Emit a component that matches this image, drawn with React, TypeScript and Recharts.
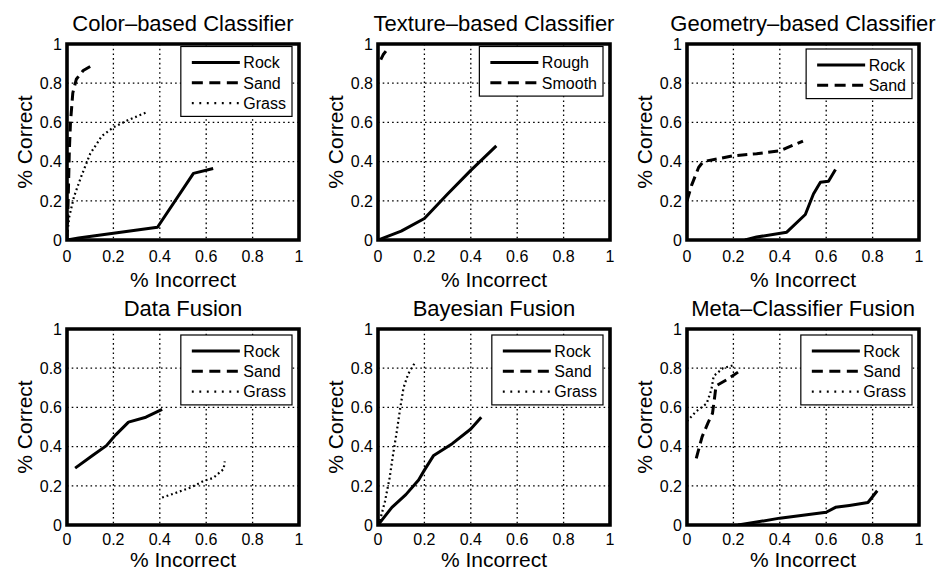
import React from 'react';
import { LineChart, Line, XAxis, YAxis, CartesianGrid, ReferenceArea, Label } from 'recharts';

type Pt = [number, number];

// ---------- data ----------
const TICKS = [0, 0.2, 0.4, 0.6, 0.8, 1];
const TICK_LABELS = ['0', '0.2', '0.4', '0.6', '0.8', '1'];
const X_LABEL = '% Incorrect';
const Y_LABEL = '% Correct';

const colorRock: Pt[] = [[0, 0], [0.05, 0.01], [0.2, 0.035], [0.39, 0.065], [0.545, 0.34], [0.63, 0.365]];
const colorSand: Pt[] = [[0, 0], [0.005, 0.2], [0.01, 0.45], [0.015, 0.6], [0.025, 0.75], [0.04, 0.82], [0.07, 0.865], [0.115, 0.895]];
const colorGrass: Pt[] = [[0, 0.02], [0.01, 0.12], [0.03, 0.22], [0.06, 0.32], [0.1, 0.44], [0.15, 0.53], [0.2, 0.575], [0.26, 0.61], [0.35, 0.655]];

const textureRough: Pt[] = [[0, 0], [0.1, 0.045], [0.2, 0.11], [0.3, 0.235], [0.4, 0.355], [0.51, 0.48]];
const textureSmooth: Pt[] = [[0.012, 0.92], [0.022, 0.945], [0.035, 0.965]];

const geometryRock: Pt[] = [[0.25, 0], [0.3, 0.015], [0.43, 0.04], [0.51, 0.13], [0.545, 0.235], [0.575, 0.295], [0.61, 0.3], [0.64, 0.36]];
const geometrySand: Pt[] = [[0, 0.2], [0.02, 0.28], [0.05, 0.37], [0.07, 0.4], [0.2, 0.43], [0.3, 0.44], [0.4, 0.455], [0.5, 0.505]];

const dataFusionRock: Pt[] = [[0.035, 0.29], [0.11, 0.355], [0.17, 0.405], [0.21, 0.46], [0.265, 0.525], [0.34, 0.55], [0.41, 0.59]];
const dataFusionSand: Pt[] = [];
const dataFusionGrass: Pt[] = [[0.41, 0.14], [0.46, 0.16], [0.53, 0.19], [0.59, 0.225], [0.63, 0.24], [0.675, 0.285], [0.68, 0.325]];

const bayesRock: Pt[] = [[0, 0], [0.02, 0.03], [0.06, 0.09], [0.12, 0.155], [0.175, 0.23], [0.2, 0.28], [0.24, 0.355], [0.32, 0.415], [0.4, 0.49], [0.445, 0.55]];
const bayesSand: Pt[] = [];
const bayesGrass: Pt[] = [[0, 0], [0.01, 0.03], [0.03, 0.12], [0.05, 0.24], [0.065, 0.36], [0.08, 0.47], [0.095, 0.59], [0.11, 0.7], [0.13, 0.77], [0.16, 0.83]];

const metaRock: Pt[] = [[0.22, 0], [0.3, 0.015], [0.4, 0.035], [0.5, 0.05], [0.6, 0.065], [0.64, 0.09], [0.7, 0.1], [0.78, 0.115], [0.82, 0.175]];
const metaSand: Pt[] = [[0.04, 0.34], [0.065, 0.45], [0.09, 0.52], [0.11, 0.57], [0.12, 0.66], [0.125, 0.71], [0.17, 0.74], [0.22, 0.78]];
const metaGrass: Pt[] = [[0, 0.53], [0.04, 0.58], [0.085, 0.62], [0.105, 0.69], [0.115, 0.76], [0.155, 0.8], [0.2, 0.815]];

// ---------- styles / layout ----------
const FONT = '"Liberation Sans", Arial, Helvetica, sans-serif';

type StyleKey = 'solid' | 'dashed' | 'dotted';
const LINE_STYLES: Record<StyleKey, { dash?: string; legendDash?: string; width: number }> = {
  solid: { width: 3 },
  dashed: { dash: '10 5.5', legendDash: '11 6.5', width: 3 },
  dotted: { dash: '1.8 2.9', legendDash: '1.9 5.6', width: 2.2 },
};

type Series = { name: string; data: Pt[]; style: StyleKey };
type PanelCfg = {
  title: string;
  series: Series[];
  plotLeft: number;
  plotTop: number;
  row: number;
  legendTop: number;
};

const PLOT_W = 232;
const PLOT_H = 196;
const Y_AXIS_W = 67;
const TOP_M = 44;
const CHART_W = 310;

const ROW_CFG = [
  { height: 290, tickOffset: 21.5, xLabelOffset: 47 },
  { height: 285, tickOffset: 19.5, xLabelOffset: 42 },
];

const panels: PanelCfg[] = [
  {
    title: 'Color\u2013based Classifier',
    series: [
      { name: 'Rock', data: colorRock, style: 'solid' },
      { name: 'Sand', data: colorSand, style: 'dashed' },
      { name: 'Grass', data: colorGrass, style: 'dotted' },
    ],
    plotLeft: 67, plotTop: 44, row: 0, legendTop: 2.5,
  },
  {
    title: 'Texture\u2013based Classifier',
    series: [
      { name: 'Rough', data: textureRough, style: 'solid' },
      { name: 'Smooth', data: textureSmooth, style: 'dashed' },
    ],
    plotLeft: 378, plotTop: 44, row: 0, legendTop: 2.5,
  },
  {
    title: 'Geometry\u2013based Classifier',
    series: [
      { name: 'Rock', data: geometryRock, style: 'solid' },
      { name: 'Sand', data: geometrySand, style: 'dashed' },
    ],
    plotLeft: 687, plotTop: 44, row: 0, legendTop: 5,
  },
  {
    title: 'Data Fusion',
    series: [
      { name: 'Rock', data: dataFusionRock, style: 'solid' },
      { name: 'Sand', data: dataFusionSand, style: 'dashed' },
      { name: 'Grass', data: dataFusionGrass, style: 'dotted' },
    ],
    plotLeft: 67, plotTop: 329, row: 1, legendTop: 6,
  },
  {
    title: 'Bayesian Fusion',
    series: [
      { name: 'Rock', data: bayesRock, style: 'solid' },
      { name: 'Sand', data: bayesSand, style: 'dashed' },
      { name: 'Grass', data: bayesGrass, style: 'dotted' },
    ],
    plotLeft: 378, plotTop: 329, row: 1, legendTop: 6,
  },
  {
    title: 'Meta\u2013Classifier Fusion',
    series: [
      { name: 'Rock', data: metaRock, style: 'solid' },
      { name: 'Sand', data: metaSand, style: 'dashed' },
      { name: 'Grass', data: metaGrass, style: 'dotted' },
    ],
    plotLeft: 687, plotTop: 329, row: 1, legendTop: 6,
  },
];

const toObjs = (pts: Pt[]) => pts.map(([x, y]) => ({ x, y }));
const tickLabel = (v: number) => {
  const i = TICKS.indexOf(v);
  return i >= 0 ? TICK_LABELS[i] : String(v);
};

let measureCtx: CanvasRenderingContext2D | null = null;
function textWidth(s: string, size: number) {
  try {
    if (!measureCtx) measureCtx = document.createElement('canvas').getContext('2d');
    if (measureCtx) {
      measureCtx.font = `${size}px ${FONT}`;
      return measureCtx.measureText(s).width;
    }
  } catch (e) {
    /* ignore */
  }
  return s.length * size * 0.55;
}

function LegendBox({ series, right, top }: { series: Series[]; right: number; top: number }) {
  const fs = 16;
  const padL = 11;
  const lineLen = 48;
  const gap = 3.5;
  const padR = 6;
  const rowH = 20.3;
  const maxW = Math.max(...series.map((s) => textWidth(s.name, fs)));
  const w = padL + lineLen + gap + maxW + padR;
  const h = rowH * series.length + 9;
  const left = right - w;
  return (
    <g>
      <rect x={left} y={top} width={w} height={h} fill="#fff" stroke="#000" strokeWidth={1.2} />
      {series.map((s, i) => {
        const cy = top + 16 + rowH * i;
        const st = LINE_STYLES[s.style];
        return (
          <g key={s.name}>
            <line
              x1={left + padL}
              x2={left + padL + lineLen}
              y1={cy}
              y2={cy}
              stroke="#000"
              strokeWidth={st.width}
              strokeDasharray={st.legendDash}
            />
            <text x={left + padL + lineLen + gap} y={cy + 5.7} fontSize={fs} fontFamily={FONT} fill="#000">
              {s.name}
            </text>
          </g>
        );
      })}
    </g>
  );
}

function Panel({ p }: { p: PanelCfg }) {
  const rc = ROW_CFG[p.row];
  const H = rc.height;
  const xAxisH = H - TOP_M - PLOT_H;
  const rightM = CHART_W - Y_AXIS_W - PLOT_W;

  const renderXTick = (props: any) => {
    const { x, y, payload } = props;
    return (
      <text x={x} y={y + rc.tickOffset} textAnchor="middle" fontSize={16} fontFamily={FONT} fill="#000">
        {tickLabel(payload.value)}
      </text>
    );
  };
  const renderYTick = (props: any) => {
    const { x, y, payload } = props;
    return (
      <text x={x - 5} y={y + 5.7} textAnchor="end" fontSize={16} fontFamily={FONT} fill="#000">
        {tickLabel(payload.value)}
      </text>
    );
  };
  const renderXLabel = (props: any) => {
    const vb = props.viewBox || {};
    return (
      <text
        x={vb.x + vb.width / 2}
        y={vb.y + rc.xLabelOffset}
        textAnchor="middle"
        fontSize={21}
        fontFamily={FONT}
        fill="#000"
      >
        {X_LABEL}
      </text>
    );
  };
  const renderYLabel = (props: any) => {
    const vb = props.viewBox || {};
    const x = vb.x + vb.width - 35.5;
    const y = vb.y + vb.height / 2;
    return (
      <text
        x={x}
        y={y}
        transform={`rotate(-90, ${x}, ${y})`}
        textAnchor="middle"
        fontSize={21}
        fontFamily={FONT}
        fill="#000"
      >
        {Y_LABEL}
      </text>
    );
  };

  return (
    <div
      style={{
        position: 'absolute',
        left: p.plotLeft - Y_AXIS_W,
        top: p.plotTop - TOP_M,
        width: CHART_W,
        height: H,
      }}
    >
      <LineChart
        width={CHART_W}
        height={H}
        margin={{ top: TOP_M, right: rightM, bottom: 0, left: 0 }}
        style={{ fontFamily: FONT }}
      >
        <CartesianGrid stroke="#000" strokeWidth={1.3} strokeDasharray="1.6 3.1" />
        <XAxis
          type="number"
          dataKey="x"
          domain={[0, 1]}
          ticks={TICKS}
          interval={0}
          allowDataOverflow
          height={xAxisH}
          axisLine={false}
          tickLine={false}
          tickSize={0}
          tickMargin={0}
          tick={renderXTick}
        >
          <Label content={renderXLabel} />
        </XAxis>
        <YAxis
          type="number"
          dataKey="y"
          domain={[0, 1]}
          ticks={TICKS}
          interval={0}
          allowDataOverflow
          width={Y_AXIS_W}
          axisLine={false}
          tickLine={false}
          tickSize={0}
          tickMargin={0}
          tick={renderYTick}
        >
          <Label content={renderYLabel} />
        </YAxis>
        {p.series.map((s) => {
          const st = LINE_STYLES[s.style];
          return (
            <Line
              key={s.name}
              name={s.name}
              data={toObjs(s.data)}
              dataKey="y"
              type="linear"
              stroke="#000"
              strokeWidth={st.width}
              strokeDasharray={st.dash}
              strokeLinejoin="round"
              dot={false}
              activeDot={false}
              isAnimationActive={false}
            />
          );
        })}
        <ReferenceArea x1={0} x2={1} y1={0} y2={1} fill="none" fillOpacity={0} stroke="#000" strokeWidth={3.6} ifOverflow="visible" />
      </LineChart>
      <svg
        width={CHART_W}
        height={H}
        style={{ position: 'absolute', left: 0, top: 0, pointerEvents: 'none', overflow: 'visible' }}
      >
        <text
          x={Y_AXIS_W + PLOT_W / 2}
          y={TOP_M - 13.5}
          textAnchor="middle"
          fontSize={22}
          fontFamily={FONT}
          fill="#000"
        >
          {p.title}
        </text>
        <LegendBox series={p.series} right={Y_AXIS_W + PLOT_W - 7} top={TOP_M + p.legendTop} />
      </svg>
    </div>
  );
}

export default function App() {
  return (
    <div
      style={{
        position: 'absolute',
        left: 0,
        top: 0,
        width: 940,
        height: 571,
        background: '#fff',
        overflow: 'hidden',
      }}
    >
      {panels.map((p) => (
        <Panel key={p.title} p={p} />
      ))}
    </div>
  );
}
